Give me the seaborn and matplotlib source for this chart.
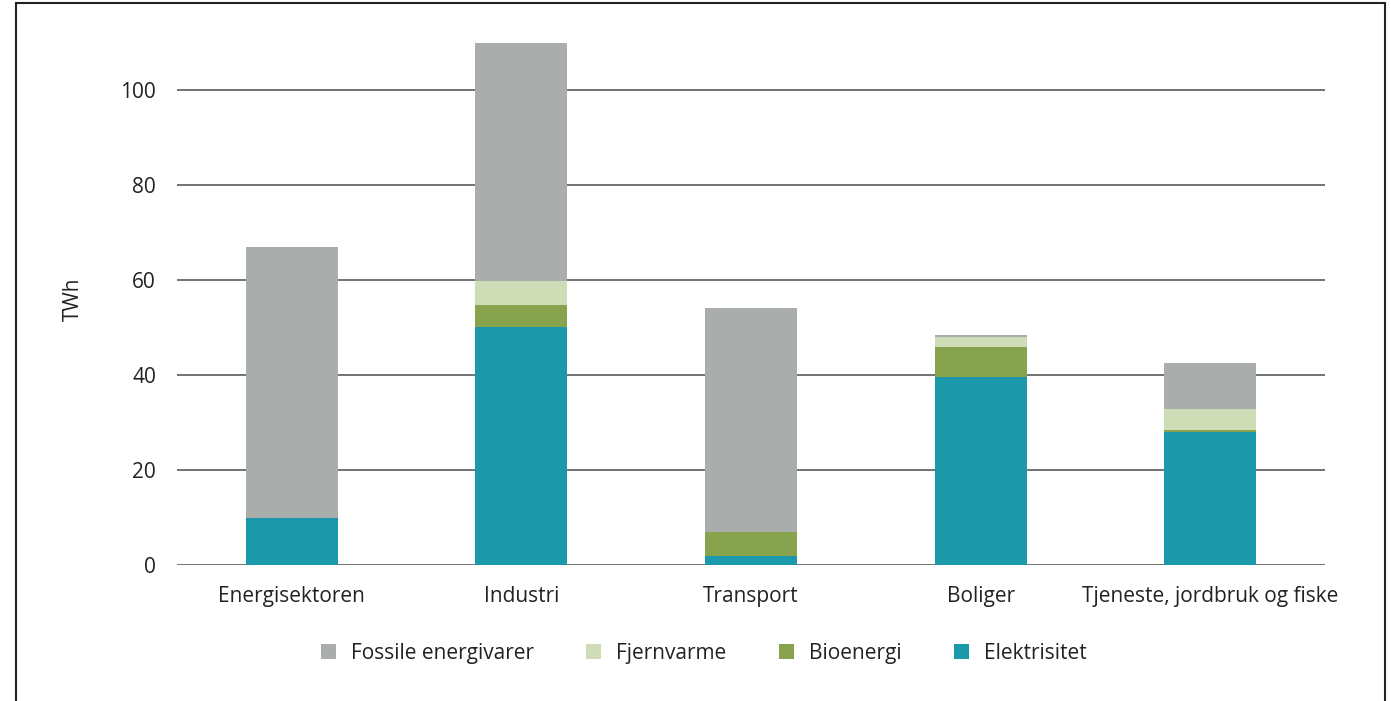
import numpy as np
import pandas as pd
import matplotlib
matplotlib.use("Agg")
import matplotlib.pyplot as plt
from matplotlib.patches import Patch, Rectangle
import seaborn as sns

# data (TWh)
sektorer = ["Energisektoren", "Industri", "Transport", "Boliger", "Tjeneste, jordbruk og fiske"]
elektrisitet = [10, 50, 2, 39.6, 27.9]
bioenergi = [0, 4.8, 5.0, 6.3, 0.6]
fjernvarme = [0, 5.0, 0, 2.0, 4.3]
fossile = [57, 50.1, 47.0, 0.5, 9.8]

kilder = ["Fossile energivarer", "Fjernvarme", "Bioenergi", "Elektrisitet"]
farger = {"Fossile energivarer": "#a9adac", "Fjernvarme": "#cfddb6",
          "Bioenergi": "#88a34e", "Elektrisitet": "#1b98aa"}

df = pd.DataFrame({"sektor": sektorer, "Elektrisitet": elektrisitet, "Bioenergi": bioenergi,
                   "Fjernvarme": fjernvarme, "Fossile energivarer": fossile})
# cumulative heights, bottom layer first
lag = ["Elektrisitet", "Bioenergi", "Fjernvarme", "Fossile energivarer"]
cum = df[lag].cumsum(axis=1)

sns.set_style("white")
plt.rcParams["font.family"] = ["Open Sans", "DejaVu Sans"]

fig = plt.figure(figsize=(13.91, 7.01), dpi=100)
ax = fig.add_axes([0.1272, 0.194, 0.9526 - 0.1272, 0.953 - 0.194])

# draw from the top layer down so lower layers cover the upper ones
for k in lag[::-1]:
    sns.barplot(x=df["sektor"], y=cum[k], color=farger[k], saturation=1, width=0.4,
                linewidth=0, ax=ax, zorder=3)

ax.set_xlim(-0.5, 4.5)
ax.set_ylim(0, 112)
ax.set_yticks([0, 20, 40, 60, 80, 100])
ax.yaxis.grid(True, color="#5a5a5a", linewidth=1.2, zorder=0)
ax.set_axisbelow(True)
for s in ax.spines.values():
    s.set_visible(False)
ax.tick_params(axis="both", length=0, labelsize=15, colors="#222222")
ax.tick_params(axis="y", pad=15)
ax.tick_params(axis="x", pad=15)
ax.set_xlabel("")
ax.set_ylabel("TWh", fontsize=15, color="#222222", labelpad=26)

handles = [Patch(facecolor=farger[k], edgecolor="none", label=k) for k in kilder]
fig.legend(handles=handles, loc="center", bbox_to_anchor=(0.506, 0.068), ncol=4,
           frameon=False, fontsize=15, handlelength=0.72, handleheight=0.72,
           handletextpad=0.72, columnspacing=2.5, labelcolor="#222222")

# outer frame (bottom edge is outside the picture)
fig.patches.append(Rectangle((16 / 1391, -0.02), (1385 - 16) / 1391, 1.02 - 3 / 701,
                             transform=fig.transFigure, fill=False,
                             edgecolor="#222222", linewidth=1.5))

fig.savefig("out.png", dpi=100)
